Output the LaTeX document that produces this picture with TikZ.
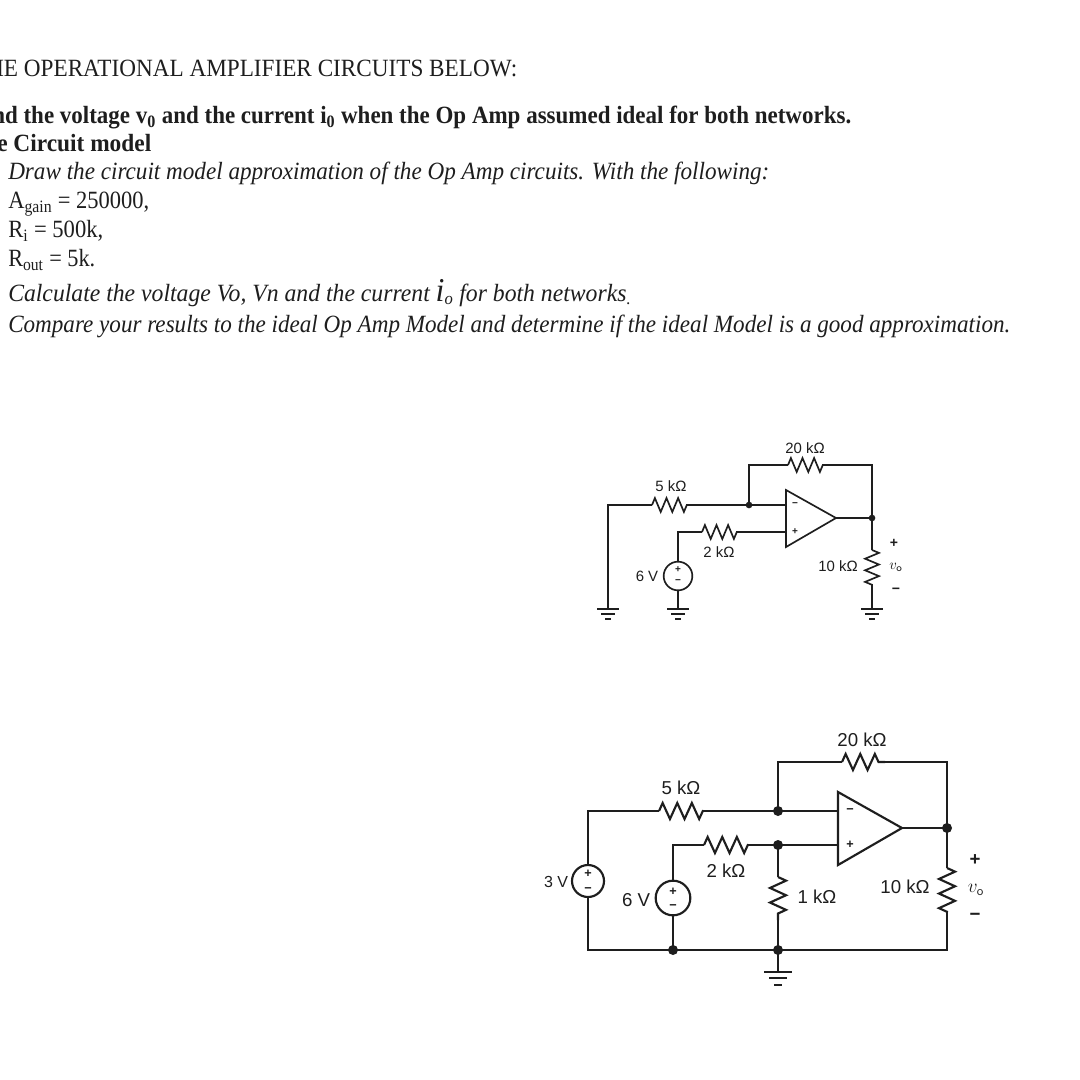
\documentclass[tikz,border=0pt]{standalone}
\usepackage{fontspec}
\usepackage{graphicx}
\usetikzlibrary{decorations.pathmorphing}
\setmainfont{Liberation Serif}
\newfontfamily\circfont{Liberation Sans}
\newcommand{\fitline}[2]{\resizebox{#1pt}{\height}{#2}}
\definecolor{ink}{HTML}{1E1E1E}
\tikzset{
  doctext/.style={anchor=base west,inner sep=0pt,text=ink,font=\fontsize{18.6}{20}\selectfont},
  wire/.style={draw=ink,line width=#1,line join=miter},
  wire/.default=1.5pt,
  biglabel/.style={inner sep=0pt,text=ink,font=\circfont\fontsize{14}{16}\selectfont},
  smalllabel/.style={inner sep=0pt,text=ink,font=\circfont\fontsize{11.2}{13}\selectfont},
  tinylabel/.style={inner sep=0pt,text=ink,font=\circfont\fontsize{12}{14}\selectfont},
  bigsign/.style={inner sep=0pt,text=ink,font=\circfont\bfseries\fontsize{9.5}{10}\selectfont},
  smallsign/.style={inner sep=0pt,text=ink,font=\circfont\bfseries\fontsize{7.5}{8}\selectfont},
  outsign/.style={inner sep=0pt,text=ink,font=\circfont\bfseries\fontsize{10.5}{11}\selectfont},
  dotnode/.style={circle,fill=ink,inner sep=0pt,minimum size=#1},
  bigres/.style={decorate,decoration={zigzag,segment length=10.95pt,amplitude=6pt}},
  smallres/.style={decorate,decoration={zigzag,segment length=8.7pt,amplitude=5.2pt}},
  srcnode/.style={circle,draw=ink,inner sep=0pt,minimum size=#1},
  groundsym/.pic={
    \draw (-11,0) -- (11,0);
    \draw (-7,5) -- (7,5);
    \draw (-3,10) -- (3,10);
  }
}
\begin{document}
\begin{tikzpicture}[x=0.75pt,y=-0.75pt]
\useasboundingbox (0,0) rectangle (1080,1080);
\clip (0,0) rectangle (1080,1080);
\fill[white] (0,0) rectangle (1080,1080);

% ---------- text block
\node[doctext] (t1) at (-4,77) {\fitline{390.75}{IE OPERATIONAL AMPLIFIER CIRCUITS BELOW:}};
\node[doctext] (t2) at (-8,124) {\fitline{644.25}{\bfseries nd the voltage v\textsubscript{0} and the current i\textsubscript{0} when the Op Amp assumed ideal for both networks.}};
\node[doctext] (t3) at (-3,152) {\fitline{115.5}{\bfseries e Circuit model}};
\node[doctext] (t4) at (8,180) {\fitline{570.75}{\itshape Draw the circuit model approximation of the Op Amp circuits. With the following:}};
\node[doctext] (t5) at (8,209) {\fitline{105.75}{A\textsubscript{gain} = 250000,}};
\node[doctext] (t6) at (8,238) {\fitline{71.25}{R\textsubscript{i} = 500k,}};
\node[doctext] (t7) at (8,267) {\fitline{65.25}{R\textsubscript{out} = 5k.}};
\node[doctext] (t8) at (8,301) {\fitline{467.25}{\itshape Calculate the voltage Vo, Vn and the current {\fontsize{25}{25}\selectfont i}\textsubscript{o} for both networks\textsubscript{.}}};
\node[doctext] (t9) at (8,332) {\fitline{751.5}{\itshape Compare your results to the ideal Op Amp Model and determine if the ideal Model is a good approximation.}};

% ---------- circuit 1
\begin{scope}[every path/.append style={wire=1.25pt}]
  \coordinate (aL) at (608,505);
  \coordinate (aR5a) at (652,505);
  \coordinate (aR5b) at (690,505);
  \node[dotnode=5pt] (aN) at (749,505) {};
  \coordinate (aIn) at (786,505);
  \coordinate (aIp) at (786,532);
  \coordinate (aT) at (786,490);
  \coordinate (aB) at (786,547);
  \coordinate (aTip) at (836,518);
  \node[dotnode=5pt] (aOut) at (872,518) {};
  \coordinate (aF) at (749,465);
  \coordinate (aR20a) at (788,465);
  \coordinate (aR20b) at (823,465);
  \coordinate (aFr) at (872,465);
  \coordinate (aR2a) at (702,532);
  \coordinate (aR2b) at (737,532);
  \coordinate (aC) at (678,532);
  \node[srcnode=21.5pt] (aS) at (678,576) {};
  \coordinate (aG1) at (608,609);
  \coordinate (aG2) at (678,609);
  \coordinate (aG3) at (872,609);
  \coordinate (aR10a) at (872,550);
  \coordinate (aR10b) at (872,585);

  \draw (aG1) -- (aL) -- (aR5a);
  \draw[smallres] (aR5a) -- (aR5b);
  \draw (aR5b) -- (aN.center) -- (aIn);
  \draw (aN.center) -- (aF) -- (aR20a);
  \draw[smallres] (aR20a) -- (aR20b);
  \draw (aR20b) -- (aFr) -- (aOut.center);
  \draw (aT) -- (aB) -- (aTip) -- cycle;
  \draw (aTip) -- (aOut.center) -- (aR10a);
  \draw[smallres] (aR10a) -- (aR10b);
  \draw (aR10b) -- (aG3);
  \draw (aS.north) -- (aC) -- (aR2a);
  \draw[smallres] (aR2a) -- (aR2b);
  \draw (aR2b) -- (aIp);
  \draw (aS.south) -- (aG2);
  \pic at (aG1) {groundsym};
  \pic at (aG2) {groundsym};
  \pic at (aG3) {groundsym};
\end{scope}
\node[smalllabel] (al20) at (805,448) {20 kΩ};
\node[smalllabel] (al5) at (671,486) {5 kΩ};
\node[smalllabel] (al2) at (719,552) {2 kΩ};
\node[smalllabel] (al10) at (838,566) {10 kΩ};
\node[smalllabel] (al6) at (647,576) {6 V};
\node[smallsign] (asm) at (795,505) {\textminus};
\node[smallsign] (asp) at (795,532) {+};
\node[smallsign] (asa) at (678,570) {+};
\node[smallsign] (asb) at (678,582) {\textminus};
\node[outsign] (avp) at (894,543) {+};
\node[smalllabel] (avo) at (896,567) {$v_{\mathsf{o}}$};
\node[outsign] (avm) at (896,591) {\textminus};

% ---------- circuit 2
\begin{scope}[every path/.append style={wire=1.6pt}]
  \coordinate (bTL) at (588,811);
  \coordinate (bR5a) at (659,811);
  \coordinate (bR5b) at (703,811);
  \node[dotnode=7.5pt] (bN) at (778,811) {};
  \coordinate (bIn) at (838,811);
  \coordinate (bIp) at (838,845);
  \coordinate (bT) at (838,792);
  \coordinate (bB) at (838,865);
  \coordinate (bTip) at (902,828);
  \node[dotnode=7.5pt] (bOut) at (947,828) {};
  \coordinate (bF) at (778,762);
  \coordinate (bR20a) at (842,762);
  \coordinate (bR20b) at (885,762);
  \coordinate (bFr) at (947,762);
  \coordinate (bC) at (673,845);
  \coordinate (bR2a) at (704,845);
  \coordinate (bR2b) at (748,845);
  \node[dotnode=7.5pt] (bP) at (778,845) {};
  \node[srcnode=26pt] (bS6) at (673,898) {};
  \node[srcnode=24pt] (bS3) at (588,881) {};
  \coordinate (bBL) at (588,950);
  \node[dotnode=7.5pt] (bD6) at (673,950) {};
  \node[dotnode=7.5pt] (bD1) at (778,950) {};
  \coordinate (bBR) at (947,950);
  \coordinate (bR1a) at (778,877);
  \coordinate (bR1b) at (778,920);
  \coordinate (bR10a) at (947,868);
  \coordinate (bR10b) at (947,912);
  \coordinate (bG) at (778,972);

  \draw (bS3.north) -- (bTL) -- (bR5a);
  \draw[bigres] (bR5a) -- (bR5b);
  \draw (bR5b) -- (bN.center) -- (bIn);
  \draw (bN.center) -- (bF) -- (bR20a);
  \draw[bigres] (bR20a) -- (bR20b);
  \draw (bR20b) -- (bFr) -- (bOut.center);
  \draw (bT) -- (bB) -- (bTip) -- cycle;
  \draw (bTip) -- (bOut.center) -- (bR10a);
  \draw[bigres] (bR10a) -- (bR10b);
  \draw (bR10b) -- (bBR) -- (bD1.center) -- (bD6.center) -- (bBL) -- (bS3.south);
  \draw (bS6.north) -- (bC) -- (bR2a);
  \draw[bigres] (bR2a) -- (bR2b);
  \draw (bR2b) -- (bP.center) -- (bIp);
  \draw (bP.center) -- (bR1a);
  \draw[bigres] (bR1a) -- (bR1b);
  \draw (bR1b) -- (bD1.center) -- (bG);
  \draw (bS6.south) -- (bD6.center);
  \pic[scale=1.27] at (bG) {groundsym};
\end{scope}
\node[biglabel] (bl20) at (862,740) {20 kΩ};
\node[biglabel] (bl5) at (681,788) {5 kΩ};
\node[biglabel] (bl2) at (726,871) {2 kΩ};
\node[biglabel] (bl1) at (817,897) {1 kΩ};
\node[biglabel] (bl10) at (905,887) {10 kΩ};
\node[tinylabel] (bl3) at (556,882) {3 V};
\node[biglabel] (bl6) at (636,900) {6 V};
\node[bigsign] (bsm) at (850,811) {\textminus};
\node[bigsign] (bsp) at (850,845) {+};
\node[bigsign] (b3p) at (588,874) {+};
\node[bigsign] (b3m) at (588,890) {\textminus};
\node[bigsign] (b6p) at (673,892) {+};
\node[bigsign] (b6m) at (673,907) {\textminus};
\node[biglabel] (bvp) at (975,860) {\textbf{+}};
\node[biglabel] (bvo) at (976,890) {$v_{\mathsf{o}}$};
\node[biglabel] (bvm) at (975,917) {\textbf{\textminus}};
\end{tikzpicture}
\end{document}
